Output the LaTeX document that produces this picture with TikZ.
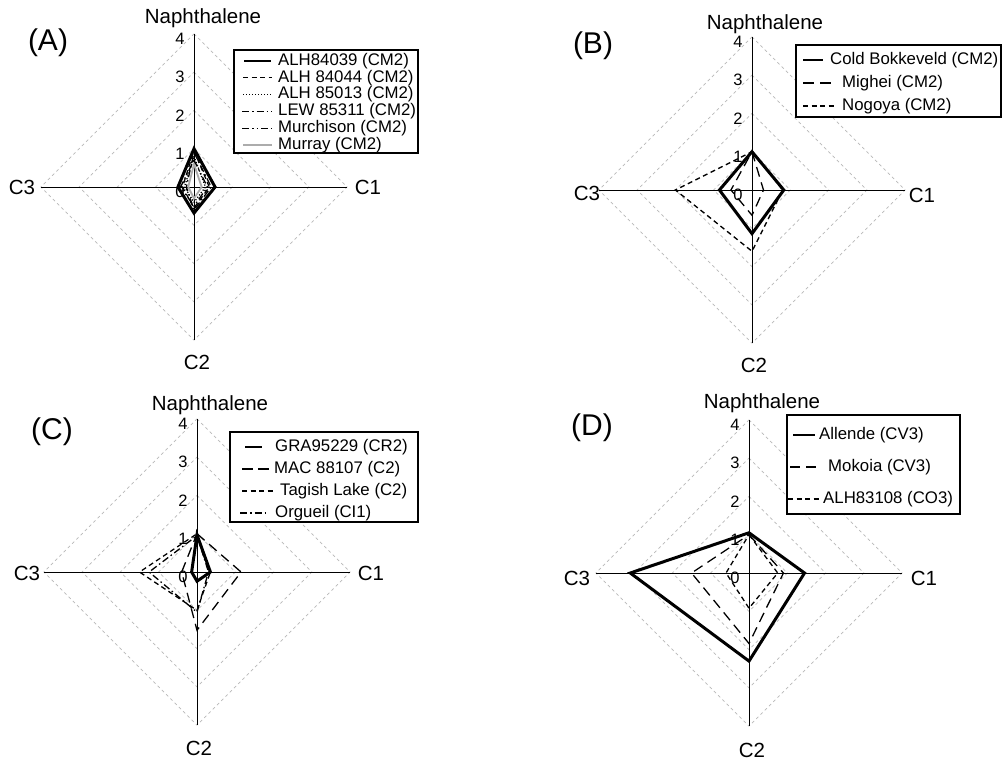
\documentclass[tikz,border=0pt]{standalone}
\usepackage{fontspec}
\setmainfont{Liberation Sans}
\tikzset{
  gridln/.style={gray!55, line width=0.7pt, dash pattern=on 3pt off 3pt},
  axisln/.style={black, line width=0.8pt},
  ticklab/.style={font=\fontsize{16.5}{19}\selectfont, inner sep=0pt},
  axlab/.style={font=\fontsize{20.5}{24}\selectfont, inner sep=0pt},
  panlab/.style={font=\fontsize{30}{34}\selectfont, inner sep=0pt},
  legtext/.style={font=\fontsize{16.8}{20}\selectfont, inner sep=0pt, anchor=west},
  legbox/.style={draw=black, fill=white, line width=1.2pt},
  sersolid/.style={black, line width=3pt},
  legsolid/.style={black, line width=1.3pt},
  sershort/.style={black, line width=1.3pt, dash pattern=on 5pt off 3.5pt},
  serlong/.style={black, line width=1.3pt, dash pattern=on 10pt off 6pt},
  serdot/.style={black, line width=1.3pt, dash pattern=on 1.2pt off 1.8pt},
  serdashdot/.style={black, line width=1.3pt, dash pattern=on 7pt off 3pt on 1.5pt off 3pt},
  serdashdotdot/.style={black, line width=1.3pt, dash pattern=on 7pt off 3pt on 1.5pt off 3pt on 1.5pt off 3pt},
  sergray/.style={gray!65, line width=1.8pt},
}
\newcommand\RadarGrid[1]{%
  \foreach \r in {1,2,3,4}{\draw[gridln] (0,\r) -- (\r,0) -- (0,-\r) -- (-\r,0) -- cycle;}
  \draw[axisln] (0,4) coordinate (#1-top) -- (0,-4) coordinate (#1-bot);
  \draw[axisln] (-4,0) coordinate (#1-left) -- (4,0) coordinate (#1-right);
  \foreach \r in {0,1,2,3,4}{\node[ticklab, xshift=-14pt, yshift=-5pt] (#1-t\r) at (0,\r) {\r};}
}
\newcommand\RadarSeries[6]{%
  \draw[#1] (0,#3) coordinate (#2-n) -- (#4,0) coordinate (#2-c1) -- (0,-#5) coordinate (#2-c2) -- (-#6,0) coordinate (#2-c3) -- cycle;}
\begin{document}
\begin{tikzpicture}[x=1pt,y=-1pt]
\useasboundingbox (0,0) rectangle (1002,761);
\fill[white] (0,0) rectangle (1002,761);

% ---------- Panel A ----------
\begin{scope}[xshift=194pt, yshift=-187pt, x=38.3pt, y=38.3pt]
  \RadarGrid{A}
  \RadarSeries{sergray}{A-s6}{0.6}{0.2}{0.3}{0.15}
  \RadarSeries{serdot}{A-s3}{0.8}{0.3}{0.4}{0.25}
  \RadarSeries{serdashdotdot}{A-s5}{0.7}{0.35}{0.5}{0.35}
  \RadarSeries{serdashdot}{A-s4}{0.9}{0.45}{0.6}{0.2}
  \RadarSeries{sershort}{A-s2}{0.95}{0.4}{0.55}{0.3}
  \RadarSeries{sersolid}{A-s1}{1.0}{0.55}{0.68}{0.42}
  \node[axlab] (A-naph) at (9pt,169pt) {Naphthalene};
  \node[axlab] (A-c3) at (-172pt,0pt) {C3};
  \node[axlab] (A-c1) at (174pt,0pt) {C1};
  \node[axlab] (A-c2) at (3pt,-175pt) {C2};
\end{scope}
\node[panlab] (A-lab) at (48,43) {(A)};
\draw[legbox] (234,50) rectangle (418,153);
\draw[legsolid] (244,61) -- (271,61);
\node[legtext] (A-l1) at (278,61) {ALH84039 (CM2)};
\draw[sershort] (243,77.8) -- (272,77.8);
\node[legtext] (A-l2) at (278,77.8) {ALH 84044 (CM2)};
\draw[serdot] (243,94.6) -- (271,94.6);
\node[legtext] (A-l3) at (278,94.6) {ALH 85013 (CM2)};
\draw[serdashdot] (242,111.4) -- (272,111.4);
\node[legtext] (A-l4) at (278,111.4) {LEW 85311 (CM2)};
\draw[serdashdotdot] (242,128.2) -- (272,128.2);
\node[legtext] (A-l5) at (278,128.2) {Murchison (CM2)};
\draw[sergray] (243,145) -- (272,145);
\node[legtext] (A-l6) at (278,145) {Murray (CM2)};

% ---------- Panel B ----------
\begin{scope}[xshift=752pt, yshift=-190pt, x=38.3pt, y=38.3pt]
  \RadarGrid{B}
  \RadarSeries{sershort}{B-s3}{1}{0.8}{1.6}{2.0}
  \RadarSeries{serlong}{B-s2}{1}{0.3}{0.66}{0.55}
  \RadarSeries{sersolid}{B-s1}{1}{0.83}{1.14}{0.85}
  \node[axlab] (B-naph) at (13pt,166pt) {Naphthalene};
  \node[axlab] (B-c3) at (-165pt,-3pt) {C3};
  \node[axlab] (B-c1) at (170pt,-5pt) {C1};
  \node[axlab] (B-c2) at (2pt,-175pt) {C2};
\end{scope}
\node[panlab] (B-lab) at (593,46) {(B)};
\draw[legbox] (796,45) rectangle (1001,117);
\draw[legsolid] (803,60) -- (823,60);
\node[legtext] (B-l1) at (830,60) {Cold Bokkeveld (CM2)};
\draw[legsolid, dash pattern=on 11pt off 6pt] (803,83) -- (833,83);
\node[legtext] (B-l2) at (842,83) {Mighei (CM2)};
\draw[sershort] (803,106) -- (836,106);
\node[legtext] (B-l3) at (842,106) {Nogoya (CM2)};

% ---------- Panel C ----------
\begin{scope}[xshift=197pt, yshift=-572pt, x=38.3pt, y=38.3pt]
  \RadarGrid{C}
  \RadarSeries{serdashdot}{C-s4}{0.95}{0.3}{1.05}{1.25}
  \RadarSeries{sershort}{C-s3}{1}{0.35}{1.0}{1.5}
  \RadarSeries{serlong}{C-s2}{1}{1.15}{1.52}{0.4}
  \RadarSeries{sersolid}{C-s1}{0.97}{0.35}{0.24}{0.14}
  \node[axlab] (C-naph) at (13pt,167pt) {Naphthalene};
  \node[axlab] (C-c3) at (-170pt,-1pt) {C3};
  \node[axlab] (C-c1) at (174pt,-1pt) {C1};
  \node[axlab] (C-c2) at (2pt,-176pt) {C2};
\end{scope}
\node[panlab] (C-lab) at (52,432) {(C)};
\draw[legbox] (230,432) rectangle (418,522);
\draw[legsolid] (245,447) -- (262,447);
\node[legtext] (C-l1) at (275,447) {GRA95229 (CR2)};
\draw[legsolid, dash pattern=on 11pt off 5pt] (242,469) -- (273,469);
\node[legtext] (C-l2) at (274,469) {MAC 88107 (C2)};
\draw[sershort] (242,491) -- (275,491);
\node[legtext] (C-l3) at (280,491) {Tagish Lake (C2)};
\draw[serdashdot] (240,513) -- (268,513);
\node[legtext] (C-l4) at (275,513) {Orgueil (CI1)};

% ---------- Panel D ----------
\begin{scope}[xshift=749pt, yshift=-573pt, x=38.3pt, y=38.3pt]
  \RadarGrid{D}
  \RadarSeries{sershort}{D-s3}{1}{0.75}{0.92}{0.6}
  \RadarSeries{serlong}{D-s2}{1}{0.9}{1.84}{1.5}
  \RadarSeries{sersolid}{D-s1}{1.05}{1.45}{2.3}{3.1}
  \node[axlab] (D-naph) at (13pt,170pt) {Naphthalene};
  \node[axlab] (D-c3) at (-172pt,-5pt) {C3};
  \node[axlab] (D-c1) at (175pt,-5pt) {C1};
  \node[axlab] (D-c2) at (3pt,-177pt) {C2};
\end{scope}
\node[panlab] (D-lab) at (592,428) {(D)};
\draw[legbox] (787,415) rectangle (960,514);
\draw[legsolid] (793,435) -- (815,435);
\node[legtext] (D-l1) at (819,435) {Allende (CV3)};
\draw[serlong] (790,467) -- (820,467);
\node[legtext] (D-l2) at (828,467) {Mokoia (CV3)};
\draw[sershort] (788,499) -- (820,499);
\node[legtext] (D-l3) at (823,499) {ALH83108 (CO3)};
\end{tikzpicture}
\end{document}
